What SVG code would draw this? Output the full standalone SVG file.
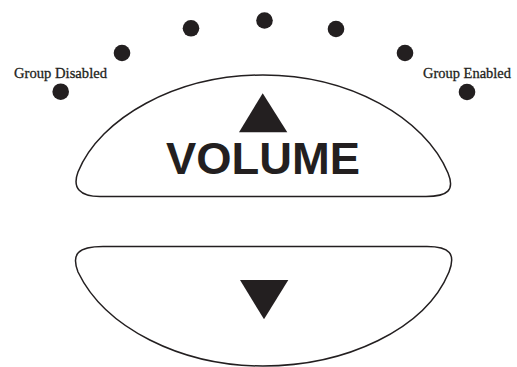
<svg xmlns="http://www.w3.org/2000/svg" width="517" height="367" viewBox="0 0 517 367">
<style>
.btn{fill:#fff;stroke:#231f20;stroke-width:1.5}
.dot{fill:#231f20}
.lbl{font-family:"Liberation Serif",serif;font-size:15px;fill:#231f20;stroke:#231f20;stroke-width:0.3}
.vol{font-family:"Liberation Sans",Arial,sans-serif;font-weight:bold;font-size:44px;fill:#231f20}
.tri{fill:#231f20}
</style>
<rect width="517" height="367" fill="#fff"/>
<g id="dots">
<circle class="dot" cx="60.7" cy="91.7" r="8.3"/>
<circle class="dot" cx="122" cy="53" r="8.3"/>
<circle class="dot" cx="191" cy="28.3" r="8.3"/>
<circle class="dot" cx="264.5" cy="20.5" r="8.3"/>
<circle class="dot" cx="336" cy="29" r="8.3"/>
<circle class="dot" cx="405" cy="53" r="8.3"/>
<circle class="dot" cx="467" cy="92" r="8.3"/>
</g>
<g id="label-disabled"><text class="lbl" x="14" y="78" textLength="93" lengthAdjust="spacingAndGlyphs">Group Disabled</text></g>
<g id="label-enabled"><text class="lbl" x="423" y="78" textLength="88" lengthAdjust="spacingAndGlyphs">Group Enabled</text></g>
<g id="volume-up">
<path class="btn" d="M100 196.5 L426 196.5 C448 196.5 455 190 448 173 C425 118 350 75 263 75 C176 75 100 118 78 172 C72 188 80 196.5 100 196.5 Z"/>
<polygon class="tri" points="262.7,93.3 287.3,132.3 239,132.3"/>
<text class="vol" x="166" y="174" textLength="194" lengthAdjust="spacingAndGlyphs">VOLUME</text>
</g>
<g id="volume-down">
<path class="btn" d="M103 246.5 L427 246.5 C450 246.5 456 254 449 272 C425 330 345 366 263 366 C181 366 105 328 78 272 C71 254 78 246.5 103 246.5 Z"/>
<polygon class="tri" points="240,280 288.3,280 264,319.3"/>
</g>
<g id="connectors"></g>
</svg>
